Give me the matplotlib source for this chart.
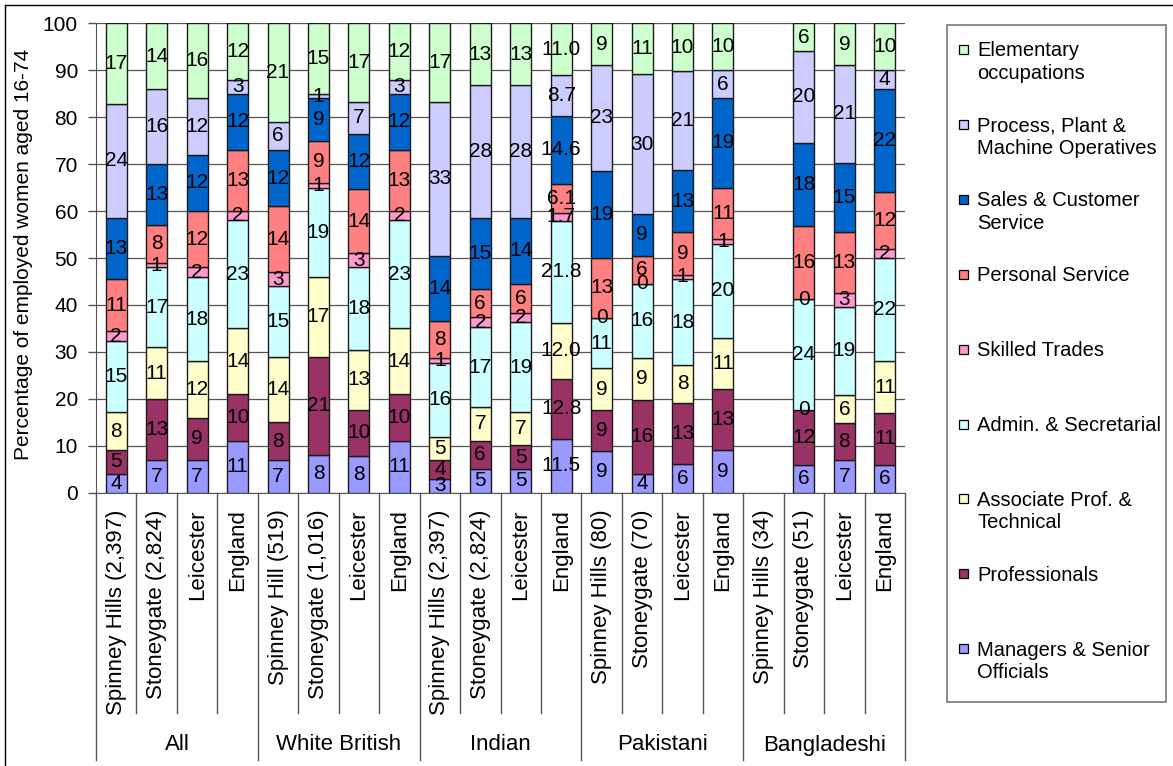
import numpy as np
import matplotlib
matplotlib.use("Agg")
import matplotlib.pyplot as plt
from matplotlib.patches import Rectangle
from matplotlib.lines import Line2D
import matplotlib.transforms as mtransforms

plt.rcParams['font.family'] = ['Liberation Sans', 'DejaVu Sans']

nan = np.nan

# bars, left to right
categories = ["Spinney Hills (2,397)", "Stoneygate (2,824)", "Leicester", "England",
              "Spinney Hill (519)", "Stoneygate (1,016)", "Leicester", "England",
              "Spinney Hills (2,397)", "Stoneygate (2,824)", "Leicester", "England",
              "Spinney Hills (80)", "Stoneygate (70)", "Leicester", "England",
              "Spinney Hills (34)", "Stoneygate (51)", "Leicester", "England"]
groups = ["All", "White British", "Indian", "Pakistani", "Bangladeshi"]
group_size = 4
one_decimal = [11]   # Indian / England column shows one decimal

# occupation shares (%), bottom to top of each bar
managers      = [4, 7, 7, 11, 7, 8, 8, 11, 3, 5, 5, 11.5, 9, 4, 6, 9, nan, 6, 7, 6]
professionals = [5, 13, 9, 10, 8, 21, 10, 10, 4, 6, 5, 12.8, 9, 16, 13, 13, nan, 12, 8, 11]
associate     = [8, 11, 12, 14, 14, 17, 13, 14, 5, 7, 7, 12.0, 9, 9, 8, 11, nan, 0, 6, 11]
admin         = [15, 17, 18, 23, 15, 19, 18, 23, 16, 17, 19, 21.8, 11, 16, 18, 20, nan, 24, 19, 22]
skilled       = [2, 1, 2, 2, 3, 1, 3, 2, 1, 2, 2, 1.7, 0, 0, 1, 1, nan, 0, 3, 2]
personal      = [11, 8, 12, 13, 14, 9, 14, 13, 8, 6, 6, 6.1, 13, 6, 9, 11, nan, 16, 13, 12]
sales         = [13, 13, 12, 12, 12, 9, 12, 12, 14, 15, 14, 14.6, 19, 9, 13, 19, nan, 18, 15, 22]
process       = [24, 16, 12, 3, 6, 1, 7, 3, 33, 28, 28, 8.7, 23, 30, 21, 6, nan, 20, 21, 4]
elementary    = [17, 14, 16, 12, 21, 15, 17, 12, 17, 13, 13, 11.0, 9, 11, 10, 10, nan, 6, 9, 10]

series = [managers, professionals, associate, admin, skilled, personal, sales, process, elementary]
series_names = ["Managers & Senior\nOfficials", "Professionals", "Associate Prof. &\nTechnical",
                "Admin. & Secretarial", "Skilled Trades", "Personal Service",
                "Sales & Customer\nService", "Process, Plant &\nMachine Operatives",
                "Elementary\noccupations"]
colors = ["#9999FF", "#993366", "#FFFFCC", "#CCFFFF", "#FF99CC",
          "#FF8080", "#0066CC", "#CCCCFF", "#CCFFCC"]

W, H = 1173, 766
fig = plt.figure(figsize=(W / 100, H / 100), dpi=100)
ax = fig.add_axes([96 / W, 1 - 492.7 / H, (905 - 96) / W, (492.7 - 23.3) / H])

vals = np.array(series, dtype=float)
totals = vals.sum(axis=0)
pct = vals / totals * 100    # 100% stacked like Excel
x = np.arange(len(categories))
has_data = ~np.isnan(totals)
bottom = np.zeros(len(categories))

for i, (name, col) in enumerate(zip(series_names, colors)):
    h = np.nan_to_num(pct[i])
    ax.bar(x[has_data], h[has_data], 0.52, bottom=bottom[has_data], color=col,
           edgecolor="#1a1a1a", linewidth=1.0, zorder=3)
    for j in np.where(has_data)[0]:
        v = vals[i, j]
        txt = f"{v:.1f}" if j in one_decimal else f"{v:.0f}"
        ax.text(x[j], bottom[j] + h[j] / 2, txt, ha="center", va="center",
                fontsize=15, color="black", zorder=5)
    bottom = bottom + h

ax.set_xlim(-0.5, len(categories) - 0.5)
ax.set_ylim(0, 100)
ax.set_yticks(np.arange(0, 101, 10))
ax.tick_params(axis="y", labelsize=15, direction="out", length=6, width=1, color="#555555", pad=7)
ax.yaxis.grid(True, color="#555555", linewidth=0.9, zorder=0)
ax.set_axisbelow(True)
for s in ["top", "right"]:
    ax.spines[s].set_visible(False)
ax.spines["left"].set_color("#555555")
ax.spines["bottom"].set_color("#555555")

ax.set_xticks(x)
ax.set_xticklabels(categories, rotation=90, fontsize=16, va="top", ha="center")
ax.tick_params(axis="x", length=0, pad=12)

# category / group divider lines under the axis
ax_h = 492.7 - 23.3
trans = mtransforms.blended_transform_factory(ax.transData, ax.transAxes)
cat_depth = -(713 - 492.7) / ax_h
grp_depth = -(760 - 492.7) / ax_h
for k in range(len(categories) + 1):
    xd = k - 0.5
    depth = grp_depth if k % group_size == 0 else cat_depth
    ax.add_line(Line2D([xd, xd], [0, depth], transform=trans, color="#555555",
                       linewidth=1.0, clip_on=False))
for g, name in enumerate(groups):
    xc = g * group_size + (group_size - 1) / 2
    ax.text(xc, -(745 - 492.7) / ax_h, name, transform=trans, ha="center", va="center", fontsize=16)

fig.text(24 / W, 1 - 254 / H, "Percentage of employed women aged 16-74", rotation=90,
         ha="center", va="center", fontsize=15)

# chart-area border (top and left visible)
fig.add_artist(Line2D([5 / W, 1], [1 - 5 / H, 1 - 5 / H], transform=fig.transFigure, color="black", linewidth=1))
fig.add_artist(Line2D([5 / W, 5 / W], [0, 1 - 5 / H], transform=fig.transFigure, color="black", linewidth=1))

# legend box, top entry = Elementary
fig.add_artist(Rectangle((947 / W, 1 - 702 / H), (1166 - 947) / W, (702 - 25) / H,
                         transform=fig.transFigure, facecolor="white", edgecolor="#777777", linewidth=1.2))
for k, idx in enumerate(range(len(series_names) - 1, -1, -1)):
    yc = 49.5 + k * 74.9
    fig.add_artist(Rectangle((959 / W, 1 - (yc + 4.5) / H), 9 / W, 9 / H, transform=fig.transFigure,
                             facecolor=colors[idx], edgecolor="black", linewidth=0.9))
    fig.text(977 / W, 1 - (yc - 8) / H, series_names[idx], ha="left", va="top",
             fontsize=14.5, linespacing=1.22)

fig.savefig("out.png", dpi=100)
